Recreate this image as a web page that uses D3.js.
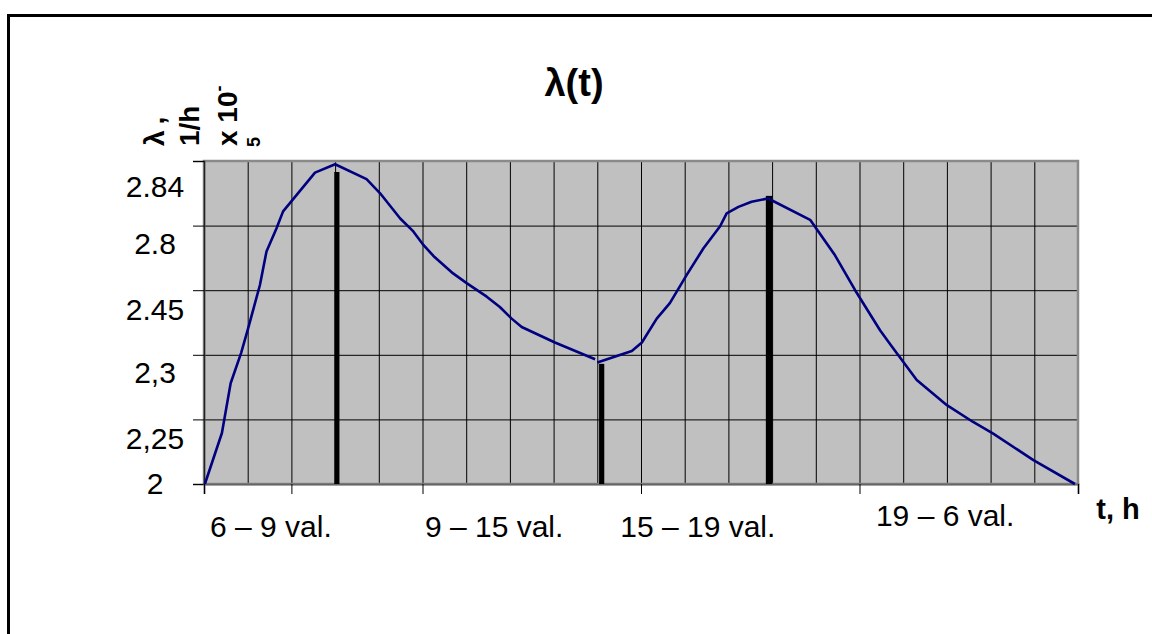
<!DOCTYPE html>
<html>
<head>
<meta charset="utf-8">
<script src="https://cdn.jsdelivr.net/npm/d3@7"></script>
<style>
  html, body { margin: 0; padding: 0; background: #fff; }
  svg { display: block; font-family: "Liberation Sans", Arial, sans-serif; }
</style>
</head>
<body>
<svg id="chart" width="1152" height="634"></svg>
<script>
// ---- data (grid units: x = column 0..20, y = row 0..5) ----
const tRise   = [0.02, 0.41, 0.61, 0.85, 1.01, 1.28, 1.43, 1.66, 1.81, 2.54, 3.00, 3.72, 4.03, 4.49, 4.79, 5.02, 5.25, 5.70, 6.01, 6.47, 6.77, 7.04, 7.27, 8.03, 8.95];
const lamRise = [0.00, 0.79, 1.56, 2.03, 2.41, 3.08, 3.60, 3.96, 4.22, 4.82, 4.95, 4.72, 4.50, 4.11, 3.91, 3.70, 3.53, 3.26, 3.11, 2.90, 2.74, 2.56, 2.43, 2.19, 1.93];
const tFall   = [9.00, 9.79, 10.02, 10.36, 10.66, 11.05, 11.43, 11.81, 11.96, 12.23, 12.53, 12.91, 13.87, 14.44, 14.90, 15.47, 15.74, 16.31, 17.00, 17.60, 18.06, 18.98, 19.93];
const lamFall = [1.88, 2.06, 2.19, 2.56, 2.80, 3.24, 3.65, 3.99, 4.19, 4.29, 4.37, 4.42, 4.09, 3.54, 3.00, 2.38, 2.13, 1.61, 1.22, 0.96, 0.78, 0.37, 0.00];

const barAt  = [3.04, 9.10, 12.93];
const barTop = [4.83, 1.86, 4.46];

const yTickLabels = ["2", "2,25", "2,3", "2.45", "2.8", "2.84"];
const yLabelAt    = [0.02, 0.71, 1.73, 2.71, 3.72, 4.61];
const yGrid       = [0, 1, 2, 3, 4, 5];

const xTicks      = [0, 2, 5, 10, 15, 20];
const xLabels     = ["6 – 9 val.", "9 – 15 val.", "15 – 19 val.", "19 – 6 val."];
const xLabelAt    = [1.53, 6.64, 11.3, 16.96];

const titleText = "λ(t)";
const yTitleLines = ["λ,", "1/h", "x 10"];

// ---- drawing ----
const svg = d3.select("#chart");
const x = d3.scaleLinear().domain([0, 20]).range([204, 1078]);
const y = d3.scaleLinear().domain([0, 5]).range([484, 161]);

// outer frame
svg.append("line").attr("x1", 8.5).attr("x2", 8.5).attr("y1", 14).attr("y2", 634)
  .attr("stroke", "#000").attr("stroke-width", 3);
svg.append("line").attr("x1", 7).attr("x2", 1152).attr("y1", 15.5).attr("y2", 15.5)
  .attr("stroke", "#000").attr("stroke-width", 3);

// plot area
svg.append("rect").attr("x", x(0)).attr("y", y(5))
  .attr("width", x(20) - x(0)).attr("height", y(0) - y(5))
  .attr("fill", "#c0c0c0");

// vertical gridlines
svg.append("g").selectAll("line").data(d3.range(1, 20)).join("line")
  .attr("x1", d => x(d) + 0.5).attr("x2", d => x(d) + 0.5)
  .attr("y1", y(5)).attr("y2", y(0))
  .attr("stroke", "#000").attr("stroke-width", 1);

// horizontal gridlines
svg.append("g").selectAll("line").data(yGrid.slice(1, 5)).join("line")
  .attr("x1", x(0)).attr("x2", x(20))
  .attr("y1", d => y(d) + 0.5).attr("y2", d => y(d) + 0.5)
  .attr("stroke", "#000").attr("stroke-width", 1);

// plot border
svg.append("rect").attr("x", x(0)).attr("y", y(5))
  .attr("width", x(20) - x(0)).attr("height", y(0) - y(5))
  .attr("fill", "none").attr("stroke", "#8a8a8a").attr("stroke-width", 2.5);

// y axis (ticks only)
const yAxis = svg.append("g").attr("transform", `translate(${x(0)},0)`)
  .call(d3.axisLeft(y).tickValues(yGrid).tickSize(11).tickFormat(""));
yAxis.select(".domain").attr("stroke", "#222").attr("stroke-width", 1.5);
yAxis.selectAll(".tick line").attr("stroke", "#000").attr("stroke-width", 1);

// x axis (ticks only)
const xAxis = svg.append("g").attr("transform", `translate(0,${y(0)})`)
  .call(d3.axisBottom(x).tickValues(xTicks).tickSize(10).tickFormat(""));
xAxis.select(".domain").attr("stroke", "#666").attr("stroke-width", 2);
xAxis.selectAll(".tick line").attr("stroke", "#000").attr("stroke-width", 1);

// y tick labels
svg.append("g").selectAll("text").data(yTickLabels).join("text")
  .attr("x", 155).attr("y", (d, i) => y(yLabelAt[i]))
  .attr("dy", "0.36em").attr("text-anchor", "middle")
  .attr("font-size", 30).attr("fill", "#000").text(d => d);

// thick bars
svg.append("g").selectAll("rect").data(barAt).join("rect")
  .attr("x", (d, i) => x(d) - (i === 2 ? 3.2 : 2.6))
  .attr("width", (d, i) => i === 2 ? 6.5 : 5.2)
  .attr("y", (d, i) => y(barTop[i]))
  .attr("height", (d, i) => y(0) - y(barTop[i]))
  .attr("fill", "#000");

// curve
const line = d3.line().x(d => x(d[0])).y(d => y(d[1]));
const segs = [d3.zip(tRise, lamRise), d3.zip(tFall, lamFall)];
svg.append("g").selectAll("path").data(segs).join("path")
  .attr("d", line).attr("fill", "none")
  .attr("stroke", "#000080").attr("stroke-width", 2.6)
  .attr("stroke-linejoin", "round");

// x labels
svg.append("g").selectAll("text").data(xLabels).join("text")
  .attr("x", (d, i) => x(xLabelAt[i]))
  .attr("y", (d, i) => i === 3 ? 526 : 537)
  .attr("text-anchor", "middle").attr("font-size", 30).attr("fill", "#000")
  .text(d => d);
svg.append("text").attr("x", 1118).attr("y", 519).attr("text-anchor", "middle")
  .attr("font-size", 29).attr("font-weight", "bold").text("t, h");

// title
svg.append("text").attr("x", 574).attr("y", 96).attr("text-anchor", "middle")
  .attr("font-size", 38).attr("font-weight", "bold").text(titleText);

// y title (rotated, wrapped lines)
const yt = svg.append("g").attr("font-weight", "bold").attr("font-size", 28);
const lineX = [164, 199, 237];
yTitleLines.forEach((s, i) => {
  const t = yt.append("text")
    .attr("transform", `translate(${lineX[i]},146) rotate(-90)`)
    .attr("text-anchor", "start");
  if (i === 0) t.attr("letter-spacing", 6);
  t.append("tspan").text(s);
  if (i === 2) t.append("tspan").attr("font-size", 18).attr("dy", -12).text("-");
});
yt.append("text").attr("transform", "translate(260,147) rotate(-90)")
  .attr("font-size", 18).text("5");
</script>
</body>
</html>
